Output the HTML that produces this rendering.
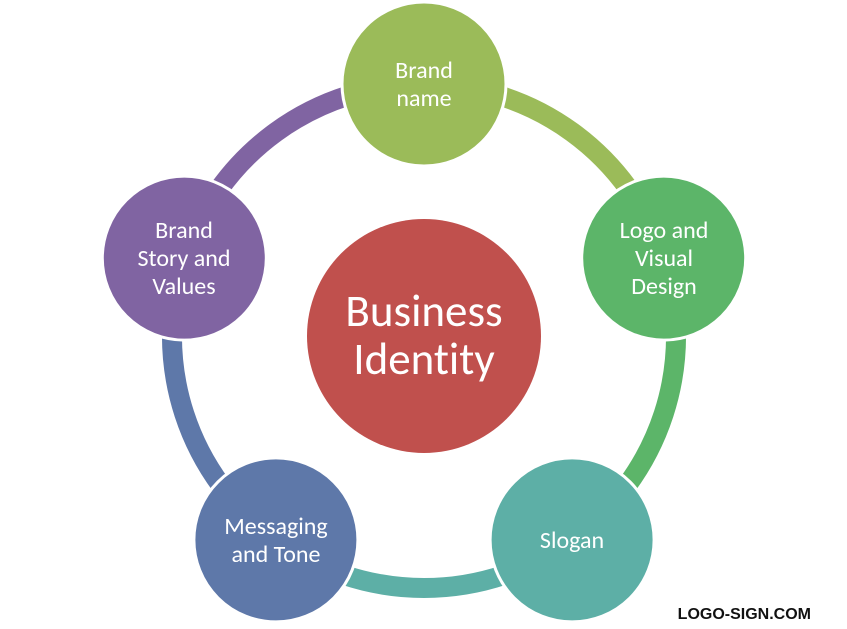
<!DOCTYPE html>
<html><head><style>body{margin:0;background:#fff}svg{display:block}text{font-variant-ligatures:none}</style></head><body>
<svg width="847" height="629" viewBox="0 0 847 629" xmlns="http://www.w3.org/2000/svg" font-family="Carlito, 'Liberation Sans', sans-serif">
<g fill="none" stroke-width="20">
<path d="M424 84 A252 252 0 0 1 663.7 258.1" stroke="#9BBB59"/>
<path d="M663.7 258.1 A252 252 0 0 1 572.1 539.9" stroke="#5CB569"/>
<path d="M572.1 539.9 A252 252 0 0 1 275.9 539.9" stroke="#5DAFA6"/>
<path d="M275.9 539.9 A252 252 0 0 1 184.3 258.1" stroke="#5E78A9"/>
<path d="M184.3 258.1 A252 252 0 0 1 424 84" stroke="#8064A2"/>
</g>
<g stroke="#fff" stroke-width="3">
<circle cx="424" cy="84" r="82" fill="#9BBB59"/>
<circle cx="663.7" cy="258.1" r="82" fill="#5CB569"/>
<circle cx="572.1" cy="539.9" r="82" fill="#5DAFA6"/>
<circle cx="275.9" cy="539.9" r="82" fill="#5E78A9"/>
<circle cx="184.3" cy="258.1" r="82" fill="#8064A2"/>
</g>
<circle cx="424" cy="336" r="117" fill="#C0504D"/>
<g fill="#fff" font-size="24" text-anchor="middle">
<text x="424" y="78">Brand</text><text x="424" y="106">name</text>
<text x="664" y="238">Logo and</text><text x="664" y="266">Visual</text><text x="664" y="294">Design</text>
<text x="572" y="548">Slogan</text>
<text x="276" y="534">Messaging</text><text x="276" y="562">and Tone</text>
<text x="184" y="238">Brand</text><text x="184" y="266">Story and</text><text x="184" y="294">Values</text>
<text x="424" y="326" font-size="45">Business</text><text x="424" y="374" font-size="45">Identity</text>
</g>
<text x="811" y="619" font-family="'Liberation Sans', sans-serif" font-weight="bold" font-size="16" text-anchor="end" fill="#111">LOGO-SIGN.COM</text>
</svg>
</body></html>
